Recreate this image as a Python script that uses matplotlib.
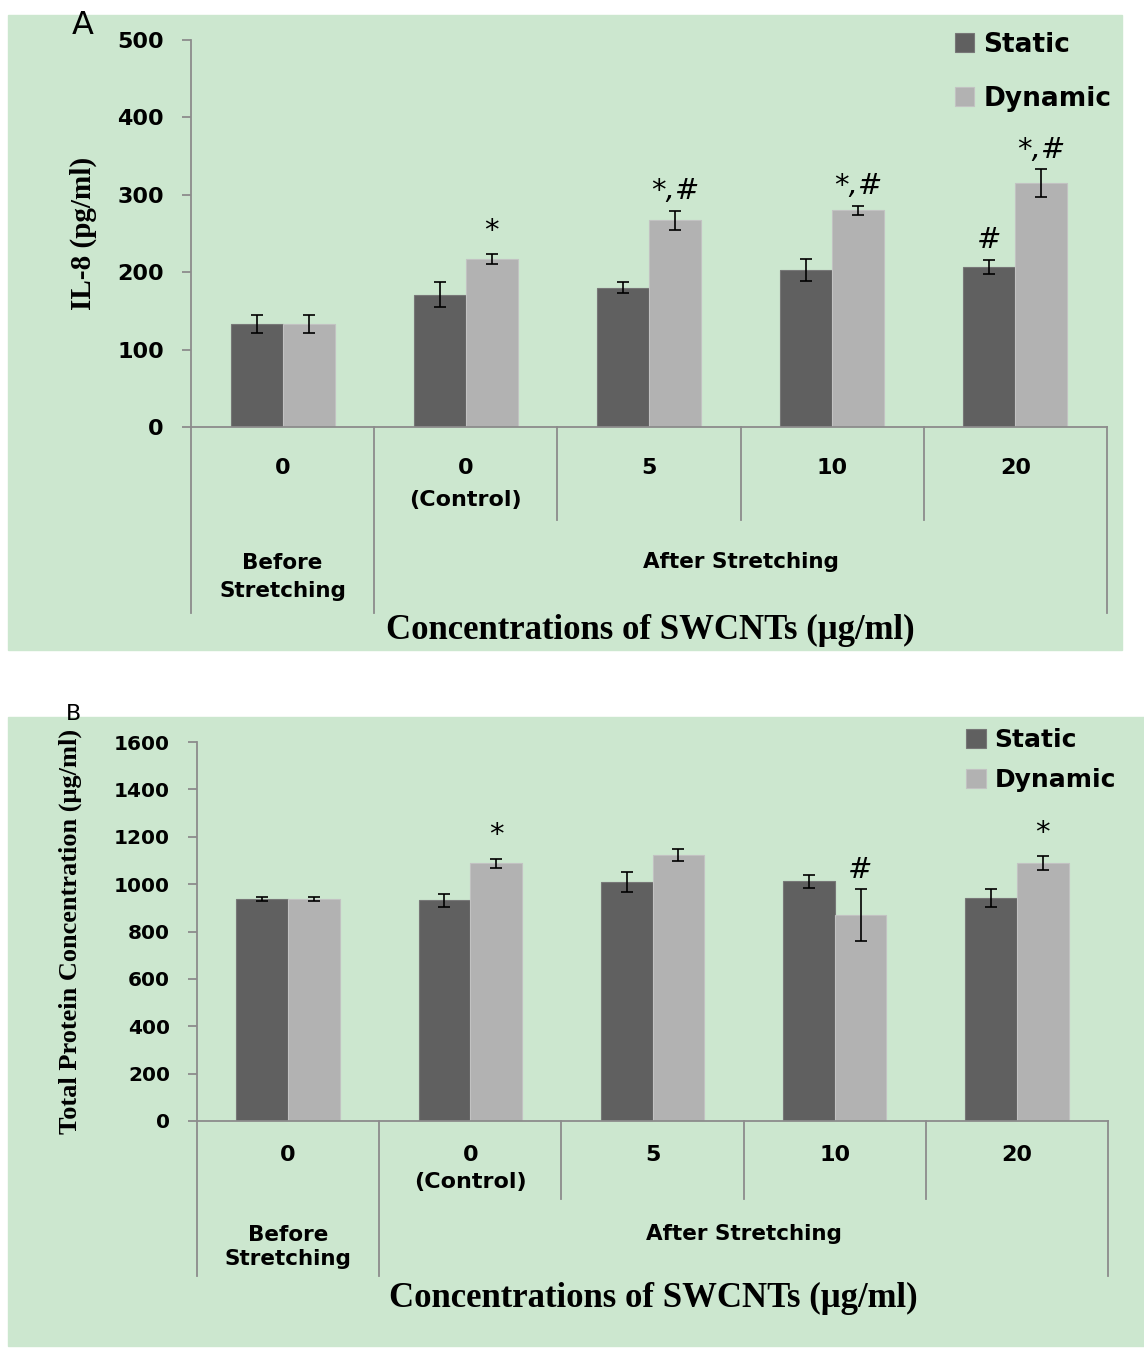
import numpy as np
import matplotlib
matplotlib.use('Agg')
from matplotlib import pyplot as plt
from matplotlib.patches import Rectangle

# data
groups = ['0', '0\n(Control)', '5', '10', '20']
series = ['Static', 'Dynamic']

il8_static = [133, 171, 180, 203, 207]
il8_static_err = [12, 16, 7, 14, 9]
il8_dynamic = [133, 217, 267, 280, 315]
il8_dynamic_err = [12, 6, 12, 6, 18]
il8_marks_static = ['', '', '', '', '#']
il8_marks_dynamic = ['', '*', '*,#', '*,#', '*,#']

prot_static = [938, 932, 1008, 1012, 942]
prot_static_err = [8, 28, 42, 27, 38]
prot_dynamic = [938, 1088, 1123, 870, 1088]
prot_dynamic_err = [8, 18, 24, 109, 29]
prot_marks_static = ['', '', '', '', '']
prot_marks_dynamic = ['', '*', '', '#', '*']

W, H = 1144, 1348
C_STATIC = '#606060'
C_DYNAMIC = '#b2b2b2'
BG = '#cce7cf'
AX_GRAY = '#8c8c8c'
SANS = 'DejaVu Sans'
SERIF = 'Liberation Serif'

fig = plt.figure(figsize=(W / 100, H / 100), dpi=100)


def px(x0, y0, x1, y1):
    # pixel box -> figure fraction [left, bottom, width, height]
    return [x0 / W, 1 - y1 / H, (x1 - x0) / W, (y1 - y0) / H]


def panel(box, bg_box, ymax, ystep, s, se, d, de, ms, md,
          tick_fs, lab_fs, leg_fs, ylabel, ylabel_x, sep_deep, sep_short,
          rows, leg_anchor, leg_space, leg_hl, mark_pad):
    bx = px(*bg_box)
    fig.patches.append(Rectangle((bx[0], bx[1]), bx[2], bx[3],
                                 transform=fig.transFigure, color=BG, zorder=-5))
    ax = fig.add_axes(px(*box))
    ax.patch.set_alpha(0)
    x = np.arange(len(groups))
    w = 0.284
    b1 = ax.bar(x - w / 2, s, w, color=C_STATIC, edgecolor='#777777',
                linewidth=0.8, label=series[0], zorder=2)
    b2 = ax.bar(x + w / 2, d, w, color=C_DYNAMIC, edgecolor='#c2c2c2',
                linewidth=0.8, label=series[1], zorder=2)
    ax.errorbar(x - w / 2, s, yerr=se, fmt='none', ecolor='black',
                elinewidth=1.2, capsize=4.5, capthick=1.2, zorder=3)
    ax.errorbar(x + w / 2, d, yerr=de, fmt='none', ecolor='black',
                elinewidth=1.2, capsize=4.5, capthick=1.2, zorder=3)

    for xi, v, e, m in zip(x - w / 2, s, se, ms):
        if m:
            ax.annotate(m, (xi, v + e), xytext=(0, mark_pad), textcoords='offset points',
                        ha='center', va='bottom', fontsize=21, style='italic',
                        family=SANS)
    for xi, v, e, m in zip(x + w / 2, d, de, md):
        if m:
            pad = mark_pad + 3 if m == '*' else mark_pad
            ax.annotate(m, (xi, v + e), xytext=(0, pad), textcoords='offset points',
                        ha='center', va='bottom', fontsize=21, style='italic',
                        family=SANS)

    ax.set_xlim(-0.5, len(groups) - 0.5)
    ax.set_ylim(0, ymax)
    ax.set_yticks(np.arange(0, ymax + 1, ystep))
    ax.set_xticks([])
    for sp in ['top', 'right']:
        ax.spines[sp].set_visible(False)
    for sp in ['left', 'bottom']:
        ax.spines[sp].set_color(AX_GRAY)
        ax.spines[sp].set_linewidth(1.3)
    ax.tick_params(axis='y', color=AX_GRAY, width=1.3, length=6.5, pad=13,
                   labelsize=tick_fs)
    for t in ax.get_yticklabels():
        t.set_fontweight('bold')
        t.set_family(SANS)

    ax.set_ylabel(ylabel, family=SERIF, fontweight='bold', fontsize=lab_fs[0])
    ax.yaxis.set_label_coords(ylabel_x, 0.5)

    # category separators under the axis
    tr = ax.get_xaxis_transform()
    for xs in np.arange(-0.5, len(groups)):
        deep = xs in (-0.5, 0.5, len(groups) - 0.5)
        ax.plot([xs, xs], [0, -(sep_deep if deep else sep_short)], transform=tr,
                color=AX_GRAY, lw=1.3, clip_on=False)

    ax_h = box[3] - box[1]
    ynum, yctl, ygrp = [-(r - box[3]) / ax_h for r in rows]
    for xi, g in zip(x, groups):
        parts = g.split('\n')
        ax.text(xi, ynum, parts[0], transform=tr, ha='center', va='center',
                fontsize=16, fontweight='bold', family=SANS)
        if len(parts) > 1:
            ax.text(xi, yctl, parts[1], transform=tr, ha='center', va='center',
                    fontsize=16, fontweight='bold', family=SANS)
    ax.text(0, ygrp, 'Before\nStretching', transform=tr, ha='center', va='center',
            fontsize=15.5, fontweight='bold', family=SANS, linespacing=lab_fs[1])
    ax.text(2.5, ygrp + (ynum - yctl) * 0.48, 'After Stretching',
            transform=tr, ha='center', va='center', fontsize=15.5,
            fontweight='bold', family=SANS)

    ax.legend(handles=[b1, b2], loc='upper left', frameon=False,
              bbox_to_anchor=(leg_anchor[0] / W, 1 - leg_anchor[1] / H),
              bbox_transform=fig.transFigure, borderaxespad=0, borderpad=0,
              handlelength=leg_hl, handleheight=leg_hl, handletextpad=0.35,
              labelspacing=leg_space,
              prop={'family': SANS, 'weight': 'bold', 'size': leg_fs})
    return ax


axA = panel((191, 40, 1107, 427), (8, 15, 1122, 650), 500, 100,
            il8_static, il8_static_err, il8_dynamic, il8_dynamic_err,
            il8_marks_static, il8_marks_dynamic,
            16, (21, 1.45), 19, 'IL-8 (pg/ml)', -0.103, 0.48, 0.24,
            (468, 500, 577), (955, 32), 1.05, 0.72, 4)

axB = panel((197, 742, 1108, 1121), (8, 717, 1144, 1346), 1600, 200,
            prot_static, prot_static_err, prot_dynamic, prot_dynamic_err,
            prot_marks_static, prot_marks_dynamic,
            14.5, (19, 1.25), 18, 'Total Protein Concentration (\u03bcg/ml)', -0.126,
            0.41, 0.205, (1155, 1182, 1247), (966, 728), 0.65, 0.8, 4)

fig.text(650 / W, 1 - 630 / H, 'Concentrations of SWCNTs (\u03bcg/ml)', ha='center',
         va='center', family=SERIF, fontweight='bold', fontsize=25)
fig.text(653 / W, 1 - 1298 / H, 'Concentrations of SWCNTs (\u03bcg/ml)', ha='center',
         va='center', family=SERIF, fontweight='bold', fontsize=25)

fig.text(83 / W, 1 - 25 / H, 'A', ha='center', va='center', family=SANS, fontsize=23)
fig.text(73 / W, 1 - 714 / H, 'B', ha='center', va='center', family=SANS, fontsize=16)

fig.savefig('out.png', dpi=100, facecolor='white')
